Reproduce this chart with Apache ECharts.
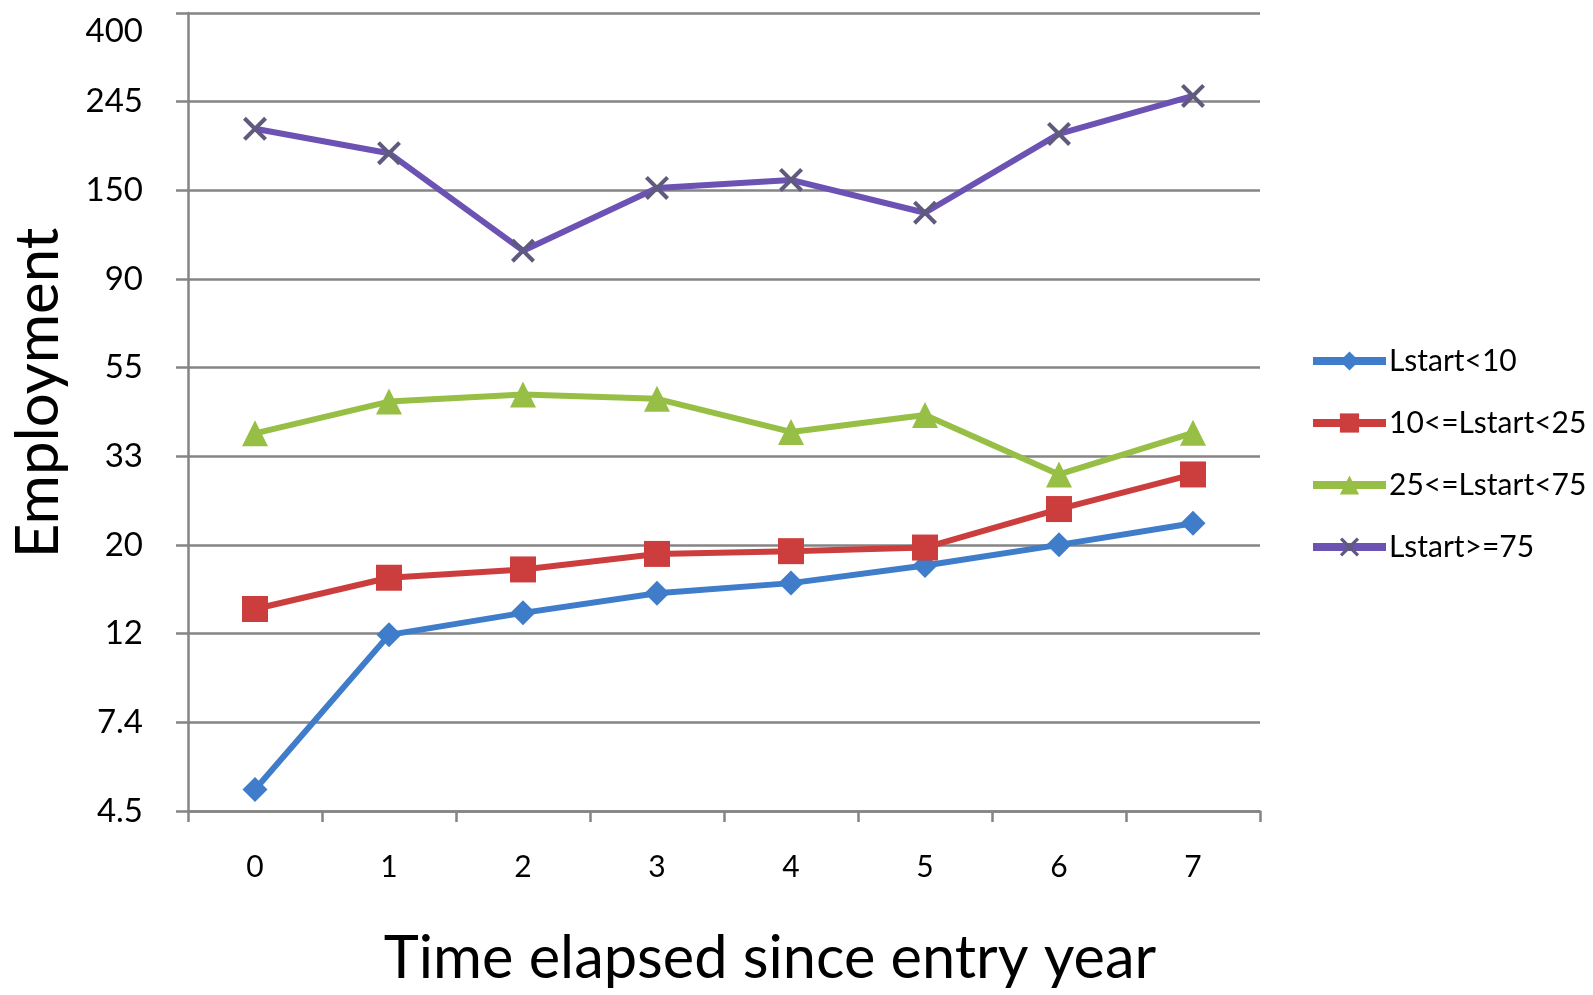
<!DOCTYPE html>
<html>
<head>
<meta charset="utf-8">
<script src="https://cdn.jsdelivr.net/npm/echarts@6/dist/echarts.min.js"></script>
<style>
html,body{margin:0;padding:0;background:#fff;}
#chart{width:1593px;height:995px;}
</style>
</head>
<body>
<div id="chart"></div>
<script>
// Categories (years since entry)
const categories = ['0','1','2','3','4','5','6','7'];
// Y tick labels (exp of 1.5, 2.0, ... 6.0)
const yTickLabels = ['4.5','7.4','12','20','33','55','90','150','245','400'];
// Series names
const seriesNames = ['Lstart<10','10<=Lstart<25','25<=Lstart<75','Lstart>=75'];
// Employment values
const lstartLt10   = [5.06, 12.1, 13.7, 15.3, 16.2, 17.9, 20.1, 22.7];
const lstart10to25 = [14.0, 16.7, 17.5, 19.1, 19.4, 19.8, 24.6, 29.9];
const lstart25to75 = [37.7, 45.1, 46.9, 45.8, 38.0, 41.8, 29.9, 37.8];
const lstartGe75   = [210, 183, 105.6, 150.4, 157.4, 130.8, 204, 252.7];

const toLn = arr => arr.map(v => Math.log(v));

const colors = ['#3f7cc9', '#cc3e3e', '#98bf45', '#6b52b3'];
const xSymbol = 'path://M0,1.2 L1.2,0 L10,8.8 L8.8,10 Z M8.8,0 L10,1.2 L1.2,10 L0,8.8 Z';

const chart = echarts.init(document.getElementById('chart'), null, {renderer: 'canvas'});
const fontFamily = 'Lato, "Open Sans", sans-serif';

function mk(name, data, color, symbol, size, extra) {
  return Object.assign({
    name: name,
    type: 'line',
    data: toLn(data),
    symbol: symbol,
    symbolSize: size,
    lineStyle: {color: color, width: 6},
    itemStyle: {color: color},
    z: 3
  }, extra || {});
}

chart.setOption({
  animation: false,
  backgroundColor: '#ffffff',
  textStyle: {fontFamily: fontFamily},
  grid: {left: 185, top: 13, width: 1075, height: 807, containLabel: false},
  legend: {
    orient: 'vertical',
    left: 1304,
    top: 341,
    itemWidth: 73,
    itemHeight: 24,
    itemGap: 32,
    lineStyle: {width: 8},
    textStyle: {fontFamily: fontFamily, fontSize: 30, color: '#000', lineHeight: 24, padding: [0,0,0,-2]},
    data: seriesNames
  },
  xAxis: {
    type: 'category',
    data: categories,
    boundaryGap: true,
    name: 'Time elapsed since entry year',
    nameLocation: 'middle',
    nameGap: 117,
    nameTextStyle: {fontFamily: fontFamily, fontSize: 59.5, color: '#000', lineHeight: 62, padding: [0,0,0,92]},
    axisLine: {show: true, lineStyle: {color: '#858585', width: 2.5}},
    axisTick: {show: true, alignWithLabel: false, length: 11, lineStyle: {color: '#858585', width: 2.5}},
    axisLabel: {fontFamily: fontFamily, fontSize: 30, color: '#000', margin: 41},
    splitLine: {show: false}
  },
  yAxis: {
    type: 'value',
    min: 1.5,
    max: 6,
    interval: 0.5,
    name: 'Employment',
    nameLocation: 'middle',
    nameGap: 118,
    nameRotate: 90,
    nameTextStyle: {fontFamily: fontFamily, fontSize: 60, color: '#000', lineHeight: 62, padding: [0,0,0,38]},
    axisLine: {show: true, lineStyle: {color: '#858585', width: 2.5}},
    axisTick: {show: true, length: 12, lineStyle: {color: '#858585', width: 2.5}},
    axisLabel: {
      fontFamily: fontFamily, fontSize: 33, color: '#000', margin: 45,
      formatter: v => {
        const i = Math.round((v - 1.5) / 0.5);
        return i === yTickLabels.length - 1 ? '{top|' + yTickLabels[i] + '}' : yTickLabels[i];
      },
      rich: {top: {fontFamily: fontFamily, fontSize: 33, color: '#000', padding: [36, 0, 0, 0]}}
    },
    splitLine: {show: true, lineStyle: {color: '#858585', width: 2.5}}
  },
  series: [
    mk(seriesNames[0], lstartLt10, colors[0], 'diamond', 25),
    mk(seriesNames[1], lstart10to25, colors[1], 'rect', 26),
    mk(seriesNames[2], lstart25to75, colors[2], 'triangle', 26),
    mk(seriesNames[3], lstartGe75, colors[3], xSymbol, 24, {itemStyle: {color: '#5f5a7e'}})
  ]
});
</script>
</body>
</html>
